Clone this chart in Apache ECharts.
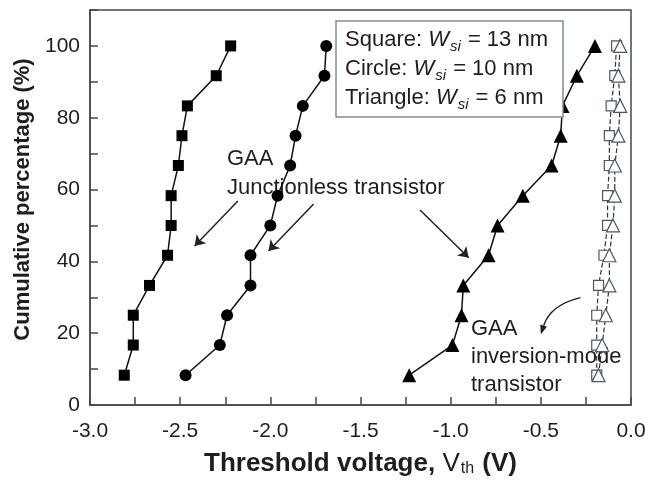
<!DOCTYPE html>
<html lang="en">
<head>
    <meta charset="UTF-8">
    <title>Vth distribution</title>
    <script src="https://cdn.jsdelivr.net/npm/echarts@6/dist/echarts.min.js"></script>
    <style>
        html, body { margin: 0; padding: 0; background: #fff; }
    </style>
</head>
<body>
    <div id="main" style="width: 645px; height: 484px"></div>
    <script>
        // cumulative percentage, 12 devices per set
        var cumPct = [8.3, 16.7, 25, 33.3, 41.7, 50, 58.3, 66.7, 75, 83.3, 91.7, 100];

        // junctionless (filled markers), Vth in V
        var sqJL = [-2.81, -2.76, -2.76, -2.67, -2.57, -2.55, -2.55, -2.51, -2.49, -2.46, -2.30, -2.22];
        var ciJL = [-2.47, -2.28, -2.24, -2.11, -2.11, -2.00, -1.96, -1.89, -1.86, -1.82, -1.70, -1.69];
        var trJL = [-1.23, -0.99, -0.94, -0.93, -0.79, -0.74, -0.60, -0.44, -0.39, -0.38, -0.30, -0.20];

        // inversion-mode (open markers)
        var sqIM = [-0.19, -0.19, -0.19, -0.18, -0.15, -0.13, -0.13, -0.12, -0.12, -0.11, -0.09, -0.08];
        var trIM = [-0.18, -0.16, -0.14, -0.12, -0.12, -0.10, -0.09, -0.09, -0.07, -0.06, -0.07, -0.06];

        var yTicks = [0, 20, 40, 60, 80, 100];

        // annotation arrows [x1, y1, x2, y2]
        var arrows = [
            [-2.18, 56.8, -2.42, 44.3],
            [-1.76, 56.0, -2.01, 42.9],
            [-1.17, 54.3, -0.90, 41.0]
        ];
        var curvedArrow = [-0.28, 29.9, -0.50, 19.7];

        function pairs(xs) {
            var res = [];
            for (var i = 0; i < xs.length; i++) {
                res.push([xs[i], cumPct[i]]);
            }
            return res;
        }

        function arrowLine(a) {
            return [{ coord: [a[0], a[1]] }, { coord: [a[2], a[3]] }];
        }

        var txt = '#1e1e1e';
        var frame = '#3f4a52';
        var font = '"Liberation Sans", Arial, sans-serif';

        var chart = echarts.init(document.getElementById('main'));
        chart.setOption({
            animation: false,
            textStyle: { fontFamily: font, color: txt },
            grid: {
                left: 90, right: 14, top: 10, bottom: 79,
                show: true, borderColor: frame, borderWidth: 1.5,
                outerBoundsMode: 'none'
            },
            xAxis: {
                type: 'value',
                min: -3, max: 0, interval: 0.5,
                name: '{b|Threshold voltage, }{v|V}{s|th}{b| (V)}',
                nameLocation: 'middle',
                nameGap: 46,
                nameTextStyle: {
                    rich: {
                        b: { fontSize: 26, fontWeight: 'bold', color: txt, fontFamily: font },
                        v: { fontSize: 26, color: txt, fontFamily: font },
                        s: { fontSize: 16, color: txt, fontFamily: font,
                             verticalAlign: 'bottom', padding: [10, 1, 0, 1] }
                    }
                },
                axisLine: { onZero: false, lineStyle: { color: frame, width: 1.5 } },
                axisTick: { inside: true, length: 8, lineStyle: { color: frame, width: 1.5 } },
                minorTick: { show: true, splitNumber: 2, length: 8, lineStyle: { color: frame, width: 1.5 } },
                axisLabel: {
                    fontSize: 21, color: txt, margin: 16,
                    formatter: function (v) { return v.toFixed(1); }
                },
                splitLine: { show: false }
            },
            yAxis: {
                type: 'value',
                min: 0, max: 110, interval: 10,
                name: 'Cumulative percentage (%)',
                nameLocation: 'middle',
                nameGap: 51,
                nameTextStyle: { fontSize: 22, fontWeight: 'bold', color: txt, padding: [0, 0, 0, 16] },
                axisLine: { onZero: false, lineStyle: { color: frame, width: 1.5 } },
                axisTick: { inside: true, length: 8, lineStyle: { color: frame, width: 1.5 } },
                axisLabel: { fontSize: 21, color: txt, margin: 10, customValues: yTicks },
                splitLine: { show: false }
            },
            series: [{
                type: 'line',
                data: pairs(sqIM),
                symbol: 'rect', symbolSize: 10,
                lineStyle: { color: '#333', width: 1.2, type: 'dashed' },
                itemStyle: { color: '#fff', borderColor: '#4a5862', borderWidth: 1.2 },
                z: 2
            }, {
                type: 'line',
                data: pairs(trIM),
                symbol: 'triangle', symbolSize: 13,
                lineStyle: { color: '#333', width: 1.2, type: 'dashed' },
                itemStyle: { color: '#fff', borderColor: '#4a5862', borderWidth: 1.2 },
                z: 3
            }, {
                type: 'line',
                data: pairs(sqJL),
                symbol: 'rect', symbolSize: 11,
                lineStyle: { color: '#111', width: 1.5 },
                itemStyle: { color: '#000' },
                z: 4
            }, {
                type: 'line',
                data: pairs(ciJL),
                symbol: 'circle', symbolSize: 12,
                lineStyle: { color: '#111', width: 1.5 },
                itemStyle: { color: '#000' },
                z: 4
            }, {
                type: 'line',
                data: pairs(trJL),
                symbol: 'triangle', symbolSize: 14,
                lineStyle: { color: '#111', width: 1.5 },
                itemStyle: { color: '#000' },
                z: 4,
                markLine: {
                    silent: true,
                    animation: false,
                    symbol: ['none', 'arrow'],
                    symbolSize: 10,
                    label: { show: false },
                    emphasis: { disabled: true },
                    lineStyle: { color: '#222', width: 1.5, type: 'solid' },
                    data: arrows.map(arrowLine)
                }
            }],
            graphic: [{
                id: 'box',
                type: 'rect',
                shape: { x: 336, y: 21, width: 227, height: 96 },
                style: { fill: '#fff', stroke: '#7f8e9a', lineWidth: 1.5 },
                z: 10
            }, {
                id: 'boxText',
                type: 'text',
                left: 345, top: 25,
                z: 11,
                style: {
                    text: 'Square: {w|W}{s|si}{n| = 13 nm}\nCircle: {w|W}{s|si}{n| = 10 nm}\nTriangle: {w|W}{s|si}{n| = 6 nm}',
                    font: '22px ' + font,
                    fill: txt,
                    lineHeight: 29,
                    rich: {
                        w: { font: 'italic 22px ' + font, fill: txt, lineHeight: 29 },
                        s: { font: 'italic 15px ' + font, fill: txt, verticalAlign: 'bottom', padding: [8, 1, 0, 1], lineHeight: 29 },
                        n: { font: '22px ' + font, fill: txt, lineHeight: 29 }
                    }
                }
            }, {
                id: 'noteJL',
                type: 'text',
                left: 227, top: 144,
                style: { text: 'GAA\nJunctionless transistor', font: '22px ' + font, fill: txt, lineHeight: 29 }
            }, {
                id: 'noteIM',
                type: 'text',
                left: 471, top: 315,
                style: { text: 'GAA\ninversion-mode\ntransistor', font: '22px ' + font, fill: txt, lineHeight: 28 }
            }]
        });

        // curved arrow pointing at the inversion-mode label
        var p1 = chart.convertToPixel({ gridIndex: 0 }, [curvedArrow[0], curvedArrow[1]]);
        var p2 = chart.convertToPixel({ gridIndex: 0 }, [curvedArrow[2], curvedArrow[3]]);
        var bend = 0.28;
        var cp = [
            (p1[0] + p2[0]) / 2 + (p1[1] - p2[1]) * bend,
            (p1[1] + p2[1]) / 2 - (p1[0] - p2[0]) * bend
        ];
        var dx = p2[0] - cp[0], dy = p2[1] - cp[1];
        var len = Math.sqrt(dx * dx + dy * dy);
        dx /= len; dy /= len;
        var headL = 9, headW = 3.5;
        var base = [p2[0] - dx * headL, p2[1] - dy * headL];
        chart.setOption({
            graphic: [{
                id: 'curve',
                type: 'bezierCurve',
                shape: { x1: p1[0], y1: p1[1], x2: base[0], y2: base[1], cpx1: cp[0], cpy1: cp[1] },
                style: { stroke: '#222', lineWidth: 1.5, fill: null }
            }, {
                id: 'curveHead',
                type: 'polygon',
                shape: { points: [p2, [base[0] - dy * headW, base[1] + dx * headW], [base[0] + dy * headW, base[1] - dx * headW]] },
                style: { fill: '#222' }
            }]
        });
    </script>
</body>
</html>
